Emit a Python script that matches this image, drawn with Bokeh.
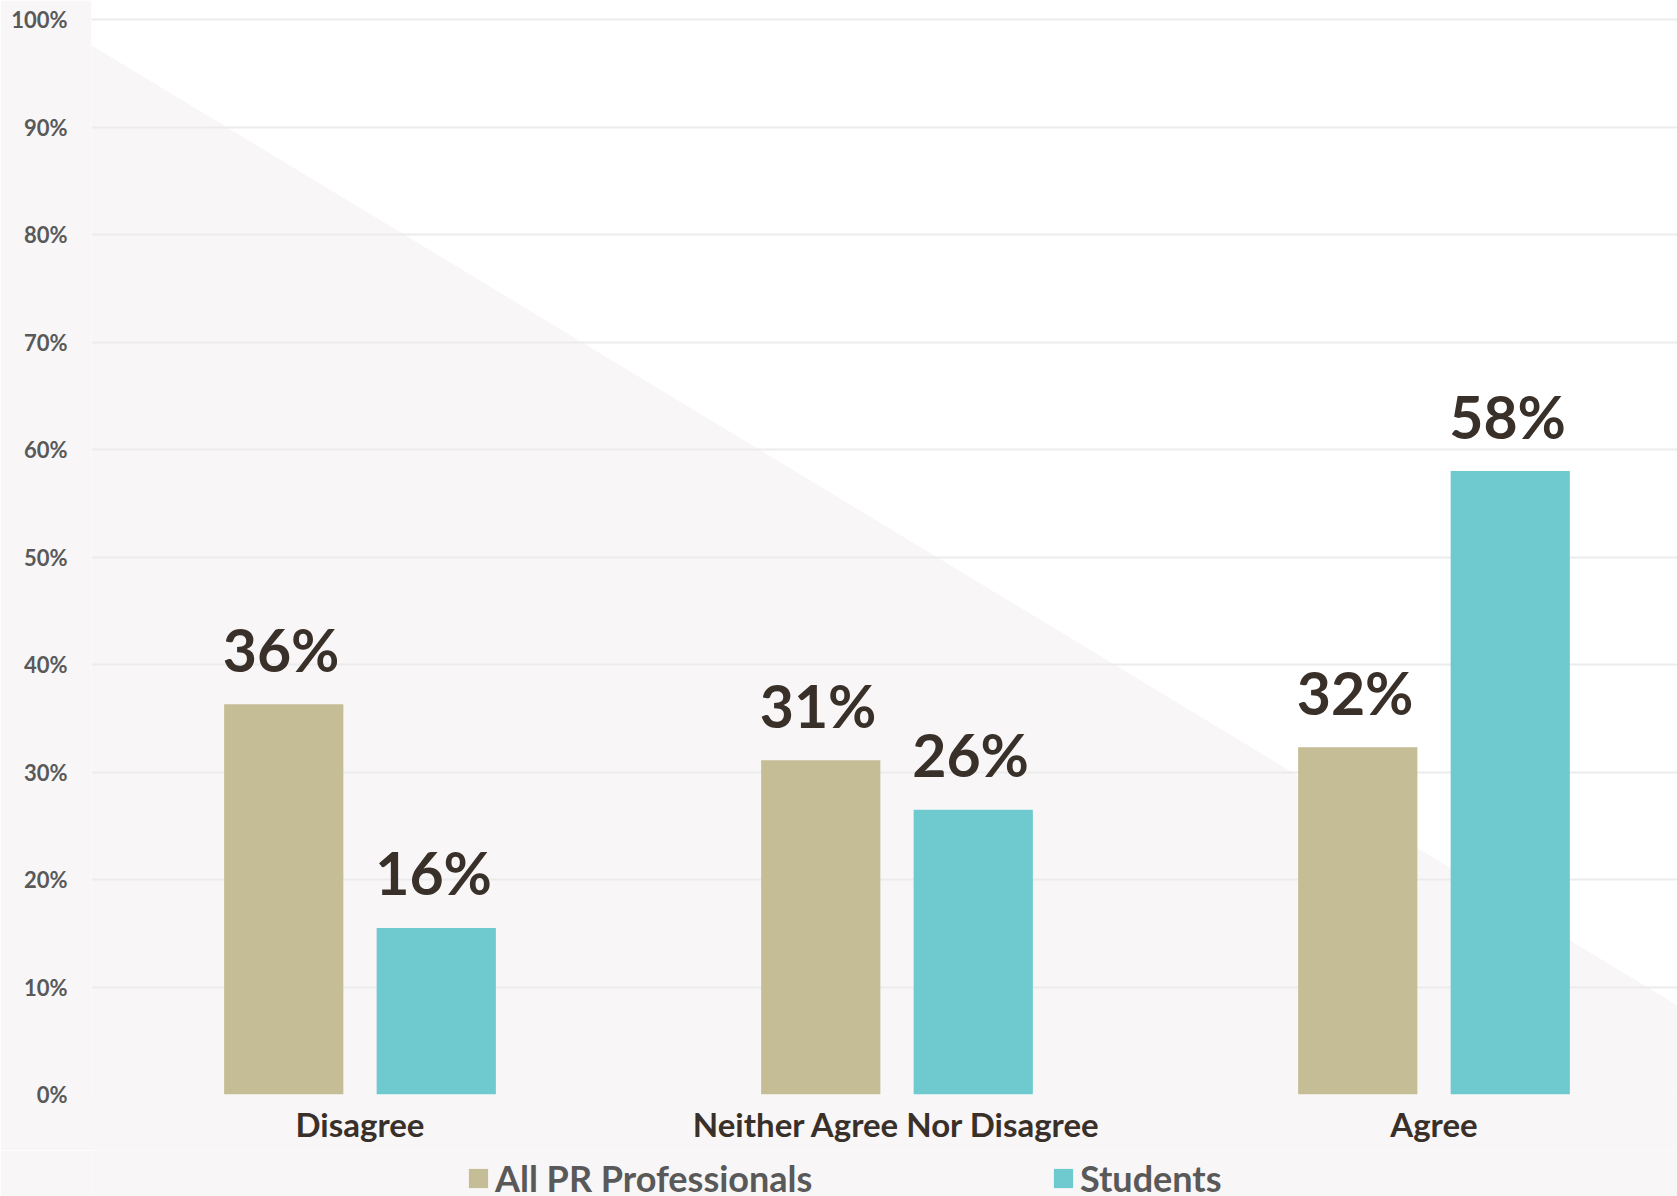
from bokeh.plotting import figure
from bokeh.layouts import column
from bokeh.models import (ColumnDataSource, Range1d, FixedTicker, Legend, LegendItem,
                          PolyAnnotation)
from bokeh.transform import dodge
from bokeh.core.properties import value
from bokeh.embed import file_html
from bokeh.resources import INLINE

# ---------------- data ----------------
categories = ["Disagree", "Neither Agree Nor Disagree", "Agree"]
pr_professionals = [36.3, 31.1, 32.3]
students = [15.5, 26.5, 58.0]
pr_labels = ["36%", "31%", "32%"]
student_labels = ["16%", "26%", "58%"]
series_names = ["All PR Professionals", "Students"]
y_ticks = [0, 10, 20, 30, 40, 50, 60, 70, 80, 90, 100]
y_tick_labels = ["0%", "10%", "20%", "30%", "40%", "50%", "60%", "70%", "80%", "90%", "100%"]

# ---------------- style ----------------
TAN = "#c5bd95"
TEAL = "#6ecace"
PINK = "#f8f6f7"
DARK = "#3a302a"
GRAY = "#595959"
FONT = value("Lato")

W = 1677
H1, H2 = 1150, 46
BL, BB = 91, 56
frame_w = W - BL
cat_px = 537
x_end = frame_w / cat_px
px_per_unit = 10.75
y_end = 100 + 19 / px_per_unit

x_pos = [i + 0.5 for i in range(len(categories))]
src = ColumnDataSource(dict(x=x_pos, pro=pr_professionals, stu=students,
                            pro_lab=pr_labels, stu_lab=student_labels))

p = figure(width=W, height=H1, x_range=Range1d(0, x_end), y_range=Range1d(0, y_end),
           output_backend="svg", toolbar_location=None,
           min_border_left=BL, min_border_right=0, min_border_top=0, min_border_bottom=BB)
p.background_fill_color = "white"
p.border_fill_color = PINK
p.outline_line_color = None

# background diagonal (decoration, in canvas pixels)
s = 1005 / 1660.0
x0 = 17
bg = PolyAnnotation(xs=[0, x0, W, W, 0], ys=[0, 0, s * (W - x0), H1, H1],
                    xs_units="canvas", ys_units="canvas",
                    fill_color=PINK, fill_alpha=1.0, line_color=None, level="image")
p.add_layout(bg)

off = 0.142
bw = 0.222
p.vbar(x=dodge("x", -off, range=p.x_range), top="pro", width=bw, source=src,
       fill_color=TAN, line_color=None)
p.vbar(x=dodge("x", off, range=p.x_range), top="stu", width=bw, source=src,
       fill_color=TEAL, line_color=None)

for col, lab, dx in [("pro", "pro_lab", -off - 0.005), ("stu", "stu_lab", off - 0.005)]:
    p.text(x=dodge("x", dx, range=p.x_range), y=col, text=lab, source=src,
           text_font=FONT, text_font_style="bold", text_font_size="59px", text_color=DARK,
           text_align="center", text_baseline="alphabetic", y_offset=-55)

# axes
p.xaxis.ticker = FixedTicker(ticks=x_pos)
p.xaxis.major_label_overrides = {x: c for x, c in zip(x_pos, categories)}
p.xaxis.major_label_text_font = "Lato"
p.xaxis.major_label_text_font_style = "bold"
p.xaxis.major_label_text_font_size = "33px"
p.xaxis.major_label_text_color = DARK
p.xaxis.major_label_standoff = 3
p.xaxis.axis_line_color = None
p.xaxis.major_tick_line_color = None
p.xaxis.minor_tick_line_color = None

p.yaxis.ticker = FixedTicker(ticks=y_ticks)
p.yaxis.major_label_overrides = {t: l for t, l in zip(y_ticks, y_tick_labels)}
p.yaxis.major_label_text_font = "Lato"
p.yaxis.major_label_text_font_style = "bold"
p.yaxis.major_label_text_font_size = "22px"
p.yaxis.major_label_text_color = GRAY
p.yaxis.major_label_standoff = 18
p.yaxis.axis_line_color = None
p.yaxis.major_tick_line_color = None
p.yaxis.minor_tick_line_color = None

p.xgrid.grid_line_color = None
p.ygrid.ticker = FixedTicker(ticks=y_ticks)
p.ygrid.grid_line_color = "#ececec"
p.ygrid.grid_line_width = 2

# ---------------- legend strip ----------------
leg = figure(width=W, height=H2, x_range=Range1d(0, 1), y_range=Range1d(1000, 1001),
             output_backend="svg", toolbar_location=None,
             x_axis_type=None, y_axis_type=None,
             min_border_left=0, min_border_right=0, min_border_top=0, min_border_bottom=0)
leg.background_fill_color = PINK
leg.border_fill_color = PINK
leg.outline_line_color = None
leg.grid.grid_line_color = None
# same series drawn out of view; they only supply the legend swatches
k1 = leg.vbar(x="x", top="pro", width=0.1, source=src, fill_color=TAN, line_color=None)
k2 = leg.vbar(x="x", top="stu", width=0.1, source=src, fill_color=TEAL, line_color=None)

lg = Legend(items=[LegendItem(label=series_names[0], renderers=[k1]),
                   LegendItem(label=series_names[1], renderers=[k2])],
            location=(375, -4), orientation="horizontal", spacing=0, label_width=556,
            padding=0, margin=0, border_line_color=None, background_fill_alpha=0,
            glyph_width=24, glyph_height=24, label_standoff=5,
            label_text_font="Lato", label_text_font_style="bold",
            label_text_font_size="36px", label_text_color=GRAY)
leg.add_layout(lg)

layout = column(p, leg, spacing=0)
open("out.html", "w").write(file_html(layout, INLINE))
